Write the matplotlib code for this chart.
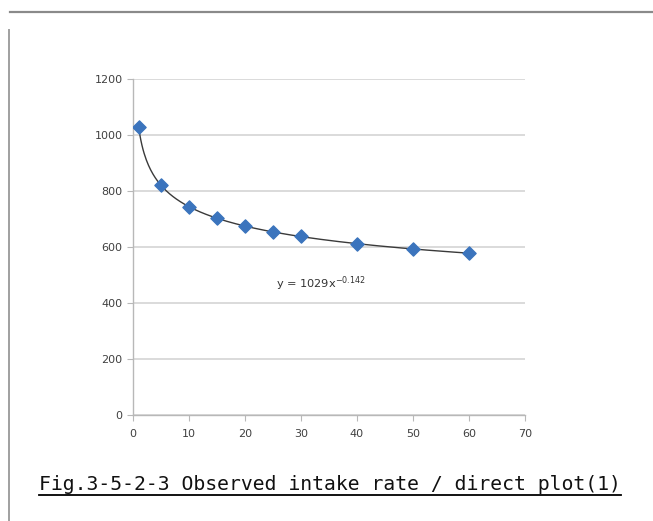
import matplotlib
matplotlib.use("Agg")
import matplotlib.pyplot as plt
import numpy as np
from matplotlib.lines import Line2D

# 観測データ (読み取り値)
time_x = [1, 5, 10, 15, 20, 25, 30, 40, 50, 60]
rate_y = [1030, 820, 742, 703, 675, 655, 638, 612, 592, 578]
x_ticks = [0, 10, 20, 30, 40, 50, 60, 70]
y_ticks = [0, 200, 400, 600, 800, 1000, 1200]
equation = "y = 1029x$^{-0.142}$"
caption = "Fig.3-5-2-3 Observed intake rate / direct plot(1)"

fig = plt.figure(figsize=(6.53, 5.21), dpi=100)
ax = fig.add_axes([133 / 653, 106 / 521, 392 / 653, 336 / 521])

# 累乗近似 (log-log で最小二乗)
b, log_a = np.polyfit(np.log(time_x), np.log(rate_y), 1)
xs = np.linspace(min(time_x), max(time_x), 300)
ax.plot(xs, np.exp(log_a) * xs ** b, color="#3a3a3a", lw=1.0, zorder=2)

ax.scatter(time_x, rate_y, marker="D", s=45, color="#3b74bd", zorder=3)

ax.set_xlim(0, 70)
ax.set_ylim(0, 1200)
ax.set_xticks(x_ticks)
ax.set_yticks(y_ticks)
ax.grid(axis="y", color="#d4d4d4", lw=1.2)
ax.set_axisbelow(True)
for s in ["top", "right"]:
    ax.spines[s].set_visible(False)
for s in ["left", "bottom"]:
    ax.spines[s].set_color("#b8b8b8")
    ax.spines[s].set_linewidth(1.0)
ax.tick_params(colors="#b8b8b8", labelcolor="#404040", labelsize=8, length=4)
ax.tick_params(axis="x", pad=6)

ax.text(25.5, 468, equation, fontsize=8.2, color="#333333", va="center")

# キャプション (下線付き)
t = fig.text(39 / 653, 1 - 490 / 521, caption, fontsize=14.2, color="#111111",
             family="DejaVu Sans Mono", va="baseline", ha="left")
fig.canvas.draw()
bb = t.get_window_extent().transformed(fig.transFigure.inverted())
yl = 1 - 495 / 521
fig.add_artist(Line2D([bb.x0, bb.x1], [yl, yl], color="black", lw=1.3,
                      transform=fig.transFigure))

# 外枠
fig.add_artist(Line2D([10 / 653, 1], [1 - 12 / 521, 1 - 12 / 521], color="#8a8a8a", lw=1.6,
                      transform=fig.transFigure))
fig.add_artist(Line2D([9 / 653, 9 / 653], [0, 1 - 30 / 521], color="#a0a0a0", lw=1.4,
                      transform=fig.transFigure))

fig.savefig("out.png", dpi=100)
